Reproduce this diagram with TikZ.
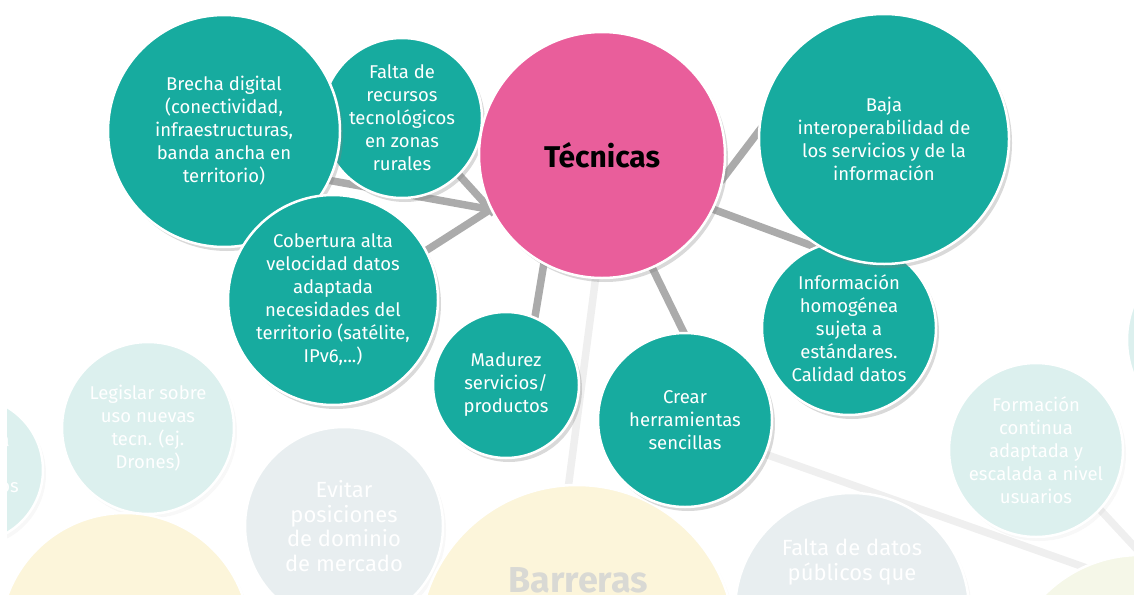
\documentclass[tikz,border=0pt]{standalone}
\usepackage{fontspec}
\setmainfont{Fira Sans}
\usetikzlibrary{shadows,backgrounds}
\definecolor{tealc}{HTML}{17AB9F}
\definecolor{pinkc}{HTML}{E95E9B}
\definecolor{fteal}{HTML}{DCF0EE}
\definecolor{fgray}{HTML}{E8EEF0}
\definecolor{fyellow}{HTML}{FCF5DA}
\definecolor{fyg}{HTML}{F5F7E8}
\definecolor{lineg}{HTML}{ABABAB}
\definecolor{fline}{HTML}{EFEFEF}
\definecolor{bartext}{HTML}{D9D9D4}
\begin{document}
\begin{tikzpicture}[x=1pt,y=-1pt,
  circ/.style={circle,draw=white,line width=2.5pt,inner sep=0pt,align=center,text=white,font=\fontsize{18.5}{23}\selectfont},
  tcirc/.style={circ,fill=tealc,drop shadow={shadow xshift=3pt,shadow yshift=-4pt,opacity=.3}},
  pcirc/.style={circ,fill=pinkc,text=black,font=\fontsize{30}{34}\selectfont\bfseries,drop shadow={shadow xshift=3pt,shadow yshift=-4pt,opacity=.3}},
  fcirc/.style={circ,fill=#1,drop shadow={shadow xshift=3pt,shadow yshift=-4pt,opacity=.06}},
  conn/.style={line width=7.5pt,draw=lineg,shorten <=-6pt,shorten >=-6pt},
  fconn/.style={line width=7.5pt,draw=fline,shorten <=-6pt,shorten >=-6pt},
  ftext/.style={text=white,align=center,inner sep=0pt}]
\useasboundingbox (0,0) rectangle (1134,594);
\clip (0,0) rectangle (1134,594);

% faded background circles
\node[fcirc=fteal,minimum size=146pt] (lft) at (-30,470) {};
\node[ftext,anchor=east,font=\fontsize{18.5}{23}\selectfont] (lfta) at (10,442) {a};
\node[ftext,anchor=east,font=\fontsize{18.5}{23}\selectfont] (lftb) at (19,488) {os};
\node[fcirc=fteal,minimum size=172pt] (leg) at (148,428) {Legislar sobre\\uso nuevas\\tecn. (ej.\\Drones)};
\node[fcirc=fyellow,minimum size=250pt] (ybl) at (125,638) {};
\node[fcirc=fgray,minimum size=198pt,font=\fontsize{22}{24.5}\selectfont] (evi) at (344,526) {Evitar\\posiciones\\de dominio\\de mercado};
\node[fcirc=fyellow,minimum size=316pt] (bar) at (577,643) {};
\node[ftext,text=bartext,font=\fontsize{36}{38}\selectfont\bfseries] (barl) at (578,580) {Barreras};
\node[fcirc=fgray,minimum size=234pt] (fdp) at (852,610) {};
\node[ftext,font=\fontsize{22}{24.5}\selectfont] (fdpl) at (852,562) {Falta de datos\\públicos que};
\node[fcirc=fteal,minimum size=174pt] (for) at (1036,450) {Formación\\continua\\adaptada y\\escalada a nivel\\usuarios};
\node[fcirc=fteal,minimum size=190pt] (rgt) at (1222,340) {};
\node[fcirc=fyg,minimum size=270pt] (yg) at (1140,690) {};
\coordinate (offr) at (1170,585);
\fill[white] (0,0) rectangle (7,594);

% main circles
\node[tcirc,minimum size=160pt] (fal) at (402,118) {Falta de\\recursos\\tecnológicos\\en zonas\\rurales};
\node[tcirc,minimum size=232pt] (bre) at (224,131) {Brecha digital\\(conectividad,\\infraestructuras,\\banda ancha en\\territorio)};
\node[tcirc,minimum size=210pt] (cob) at (333,300) {Cobertura alta\\velocidad datos\\adaptada\\necesidades del\\territorio (satélite,\\IPv6,...)};
\node[pcirc,minimum size=246pt] (tec) at (602,155) {Técnicas};
\node[tcirc,minimum size=146pt] (mad) at (506,385) {Madurez\\servicios/\\productos};
\node[tcirc,minimum size=174pt] (cre) at (685,420) {Crear\\herramientas\\sencillas};
\node[tcirc,minimum size=174pt] (inf) at (849,328) {Información\\homogénea\\sujeta a\\estándares.\\Calidad datos};
\node[tcirc,minimum size=250pt] (baj) at (884,139) {Baja\\interoperabilidad de\\los servicios y de la\\información};

\begin{scope}[on background layer]
  \draw[fconn] (tec.267) -- (bar.93);
  \draw[fconn] (cre.-23) -- (yg.115);
  \draw[fconn] (for.-43) -- (offr);
  \draw[conn] (fal.-45) -- (tec.206);
  \draw[conn] (bre.-25) -- (tec.206);
  \draw[conn] (cob.28) -- (tec.206);
  \draw[conn] (tec.242) -- (mad.67);
  \draw[conn] (tec.-66) -- (cre.91);
  \draw[conn] (tec.-10) -- (baj.177);
  \draw[conn] (tec.-26) -- (inf.113);
\end{scope}
\end{tikzpicture}
\end{document}
